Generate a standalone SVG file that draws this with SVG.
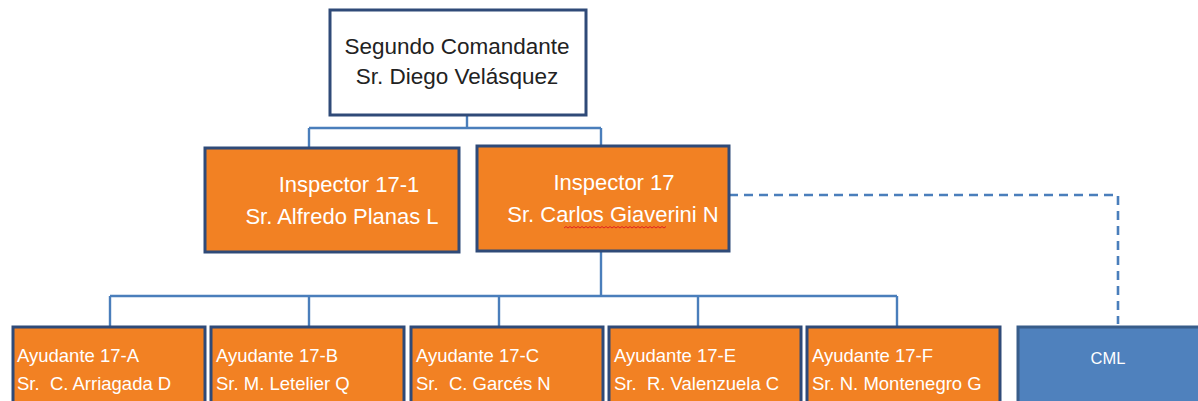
<svg xmlns="http://www.w3.org/2000/svg" width="1198" height="401" viewBox="0 0 1198 401">
<style>
.top{fill:#ffffff;stroke:#2f4a78;stroke-width:3}
.org{fill:#f28123;stroke:#2f4a78;stroke-width:3}
.cml{fill:#4f81bd;stroke:#385d8a;stroke-width:3}
.ln{fill:none;stroke:#4a7ebb;stroke-width:2.4}
.dash{fill:none;stroke:#4a7ebb;stroke-width:2.6;stroke-dasharray:9 6}
text{font-family:"Liberation Sans",Arial,sans-serif;white-space:pre}
.tk{fill:#222222;font-size:22.5px;text-anchor:middle}
.tw{fill:#ffffff;font-size:22px;text-anchor:middle}
.tb{fill:#ffffff;font-size:18.5px}
.tc{fill:#ffffff;font-size:16.5px;text-anchor:middle}
</style>
<rect width="1198" height="401" fill="#ffffff"/>
<g id="connectors">
<path class="ln" d="M467 115 V128 M309 128 H601 M309 128 V148 M601 128 V146"/>
<path class="ln" d="M601 251 V296 M110 296 H897 M110 296 V327 M309 296 V327 M499 296 V327 M698 296 V327 M897 296 V327"/>
<path class="dash" d="M729 195 H1118 V324"/>
</g>
<g id="segundo-comandante">
<rect class="top" x="330" y="10" width="256" height="105"/>
<text class="tk" x="457" y="54">Segundo Comandante</text>
<text class="tk" x="457" y="84">Sr. Diego Velásquez</text>
</g>
<g id="inspector-17-1">
<rect class="org" x="205" y="148" width="254" height="104"/>
<text class="tw" x="349" y="192">Inspector 17-1</text>
<text class="tw" x="342" y="224">Sr. Alfredo Planas L</text>
</g>
<g id="inspector-17">
<rect class="org" x="477" y="146" width="252" height="105"/>
<text class="tw" x="614" y="190">Inspector 17</text>
<text class="tw" x="613" y="222">Sr. Carlos Giaverini N</text>
<path d="M564 228 l2 -1.5 l2 1.5 l2 -1.5 l2 1.5 l2 -1.5 l2 1.5 l2 -1.5 l2 1.5 l2 -1.5 l2 1.5 l2 -1.5 l2 1.5 l2 -1.5 l2 1.5 l2 -1.5 l2 1.5 l2 -1.5 l2 1.5 l2 -1.5 l2 1.5 l2 -1.5 l2 1.5 l2 -1.5 l2 1.5 l2 -1.5 l2 1.5 l2 -1.5 l2 1.5 l2 -1.5 l2 1.5 l2 -1.5 l2 1.5 l2 -1.5 l2 1.5 l2 -1.5 l2 1.5 l2 -1.5 l2 1.5 l2 -1.5 l2 1.5 l2 -1.5 l2 1.5 l2 -1.5 l2 1.5 l2 -1.5 l2 1.5 l2 -1.5 l2 1.5 l2 -1.5 l2 1.5 l2 -1.5" fill="none" stroke="#e02020" stroke-width="1"/>
</g>
<g id="ayudante-17-a">
<rect class="org" x="13" y="327" width="192" height="78"/>
<text class="tb" x="17" y="362">Ayudante 17-A</text>
<text class="tb" x="17" y="390">Sr.  C. Arriagada D</text>
</g>
<g id="ayudante-17-b">
<rect class="org" x="211" y="327" width="193" height="78"/>
<text class="tb" x="216" y="362">Ayudante 17-B</text>
<text class="tb" x="216" y="390">Sr. M. Letelier Q</text>
</g>
<g id="ayudante-17-c">
<rect class="org" x="411" y="327" width="192" height="78"/>
<text class="tb" x="416" y="362">Ayudante 17-C</text>
<text class="tb" x="416" y="390">Sr.  C. Garcés N</text>
</g>
<g id="ayudante-17-e">
<rect class="org" x="609" y="327" width="192" height="78"/>
<text class="tb" x="614" y="362">Ayudante 17-E</text>
<text class="tb" x="614" y="390">Sr.  R. Valenzuela C</text>
</g>
<g id="ayudante-17-f">
<rect class="org" x="807" y="327" width="193" height="78"/>
<text class="tb" x="812" y="362">Ayudante 17-F</text>
<text class="tb" x="812" y="390">Sr. N. Montenegro G</text>
</g>
<g id="cml">
<rect class="cml" x="1018" y="327" width="190" height="78"/>
<text class="tc" x="1108" y="364">CML</text>
</g>
</svg>
